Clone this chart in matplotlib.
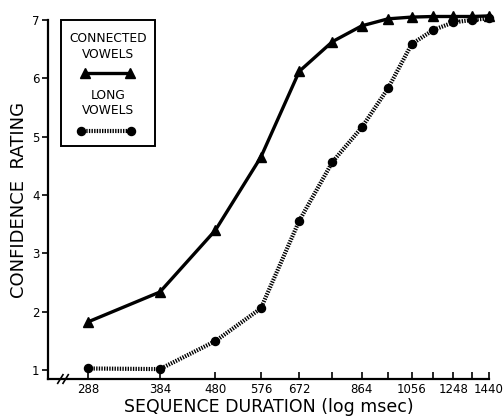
import matplotlib
matplotlib.use("Agg")
import matplotlib.pyplot as plt
from matplotlib.patches import Rectangle
from matplotlib.lines import Line2D

durations = [288, 384, 480, 576, 672, 768, 864, 960, 1056, 1152, 1248, 1344, 1440]
connected = [1.83, 2.34, 3.40, 4.65, 6.12, 6.63, 6.90, 7.02, 7.05, 7.06, 7.06, 7.06, 7.07]
long_v = [1.03, 1.02, 1.50, 2.06, 3.56, 4.57, 5.16, 5.83, 6.59, 6.83, 6.96, 7.00, 7.03]
major_ticks = [288, 384, 480, 576, 672, 864, 1056, 1248, 1440]
major_labels = ["288", "384", "480", "576", "672", "864", "1056", "1248", "1440"]
minor_ticks = [768, 960, 1152, 1344]
y_ticks = [1, 2, 3, 4, 5, 6, 7]

plt.rcParams['font.family'] = ['DejaVu Sans']

fig = plt.figure(figsize=(5.03, 4.19), dpi=100)
ax = fig.add_axes([48/503, (419-379)/419, (489-48)/503, (379-20)/419])

dot_style = dict(color='black', lw=3.0, linestyle=(0, (0.33, 0.3)), dash_capstyle='butt')
tri_style = dict(color='black', lw=2.4, solid_capstyle='butt')

ax.plot(durations, long_v, marker='o', ms=5.8, mfc='black', mec='black', clip_on=False, zorder=3, **dot_style)
ax.plot(durations, connected, marker='^', ms=7.5, mfc='black', mec='black', clip_on=False, zorder=4, **tri_style)

ax.set_xscale('log')
ax.set_xlim(245, 1440)
ax.set_ylim(0.85, 7)
ax.set_xticks(major_ticks)
ax.set_xticklabels(major_labels)
ax.set_xticks(minor_ticks, minor=True)
ax.xaxis.set_minor_formatter(plt.NullFormatter())
ax.set_yticks(y_ticks)
ax.set_yticklabels([str(v) for v in y_ticks])

for s in ['top', 'right']:
    ax.spines[s].set_visible(False)
for s in ['left', 'bottom']:
    ax.spines[s].set_linewidth(1.6)

ax.tick_params(axis='x', which='both', direction='in', length=5, width=1.2, labelsize=8.5, pad=3)
ax.tick_params(axis='y', direction='out', length=4, width=1.2, labelsize=8.5, pad=2)

ax.set_xlabel('SEQUENCE DURATION (log msec)', fontsize=12.5, labelpad=1)
ax.set_ylabel('CONFIDENCE  RATING', fontsize=13, labelpad=3)

# axis break mark
tr = ax.transAxes
for dx in (0.028, 0.040):
    ax.add_line(Line2D([dx - 0.006, dx + 0.006], [-0.012, 0.012], transform=tr, color='black', lw=1.2, clip_on=False))

# legend box
fx = lambda px: px / 503
fy = lambda py: (419 - py) / 419
fig.patches.append(Rectangle((fx(61), fy(146)), fx(155) - fx(61), fy(20) - fy(146), transform=fig.transFigure,
                             fill=False, ec='black', lw=1.4))
fig.text(fx(108), fy(38), 'CONNECTED', ha='center', va='center', fontsize=8.8)
fig.text(fx(108), fy(54), 'VOWELS', ha='center', va='center', fontsize=8.8)
fig.text(fx(108), fy(95), 'LONG', ha='center', va='center', fontsize=8.8)
fig.text(fx(108), fy(111), 'VOWELS', ha='center', va='center', fontsize=8.8)
fig.add_artist(Line2D([fx(85), fx(130)], [fy(73), fy(73)], transform=fig.transFigure, marker='^', ms=7.5,
                      mfc='black', mec='black', **tri_style))
fig.add_artist(Line2D([fx(81), fx(131)], [fy(131), fy(131)], transform=fig.transFigure, marker='o', ms=5.8,
                      mfc='black', mec='black', **dot_style))

fig.savefig('out.png', dpi=100)
